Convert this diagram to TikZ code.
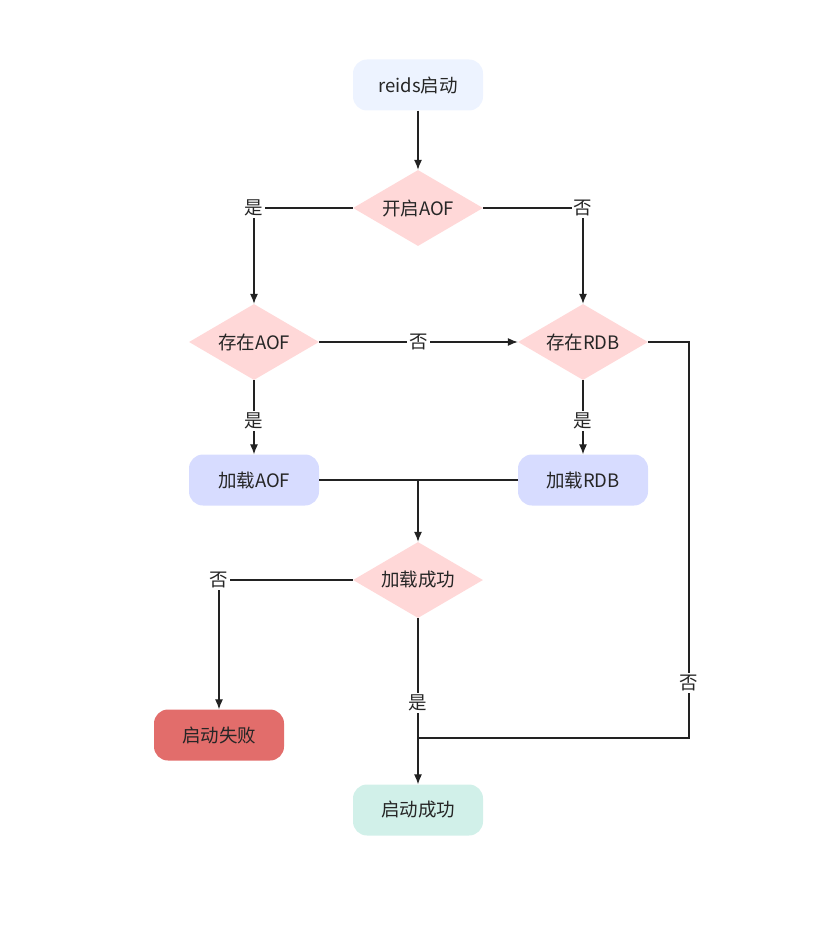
\documentclass[tikz,border=0pt]{standalone}
\usepackage{fontspec}
\setmainfont{Noto Sans CJK SC}
\usetikzlibrary{shapes.geometric,arrows.meta}
\definecolor{cstart}{HTML}{EDF3FF}
\definecolor{cdia}{HTML}{FFD8D8}
\definecolor{cload}{HTML}{D7DCFF}
\definecolor{cfail}{HTML}{E26D6B}
\definecolor{cok}{HTML}{D1F0E9}
\definecolor{cline}{HTML}{222222}
\begin{document}
\begin{tikzpicture}[x=1pt,y=-1pt,
  every node/.style={font=\fontsize{18.5}{20}\selectfont, text=black!85},
  box/.style={rectangle, rounded corners=14pt, minimum width=130pt, minimum height=51pt, inner sep=0pt},
  dia/.style={diamond, fill=cdia, minimum width=130pt, minimum height=76pt, inner sep=0pt, aspect=1.7},
  conn/.style={draw=cline, line width=1.1pt},
  arr/.style={conn, -{Latex[length=10pt,width=8pt]}},
  lbl/.style={fill=white, inner sep=2pt}]
\useasboundingbox (0,0) rectangle (814,941);
\node[box, fill=cstart] (start) at (418,85) {reids启动};
\node[dia] (aof) at (418,208) {开启AOF};
\node[dia] (haof) at (254,342) {存在AOF};
\node[dia] (hrdb) at (583,342) {存在RDB};
\node[box, fill=cload] (laof) at (254,480) {加载AOF};
\node[box, fill=cload] (lrdb) at (583,480) {加载RDB};
\node[dia] (succ) at (418,580) {加载成功};
\node[box, fill=cfail] (fail) at (219,735) {启动失败};
\node[box, fill=cok] (ok) at (418,810) {启动成功};
\coordinate (j) at (418,480);
\coordinate (m) at (418,738);
\coordinate (rc) at (689,738);

\draw[arr] (start) -- (aof);
\draw[arr] (aof.west) -| node[lbl, pos=0.5] {是} (haof.north);
\draw[arr] (aof.east) -| node[lbl, pos=0.5] {否} (hrdb.north);
\draw[arr] (haof.east) -- node[lbl] {否} (hrdb.west);
\draw[arr] (haof.south) -- node[lbl, pos=0.55] {是} (laof.north);
\draw[arr] (hrdb.south) -- node[lbl, pos=0.55] {是} (lrdb.north);
\draw[conn] (laof.east) -- (j);
\draw[conn] (lrdb.west) -- (j);
\draw[arr] (j) -- (succ.north);
\draw[arr] (succ.west) -| node[lbl, pos=0.5] {否} (fail.north);
\draw[arr] (succ.south) -- node[lbl, pos=0.51] {是} (ok.north);
\draw[conn] (hrdb.east) -| node[lbl, pos=0.93] {否} (rc) -- (m);
\end{tikzpicture}
\end{document}
